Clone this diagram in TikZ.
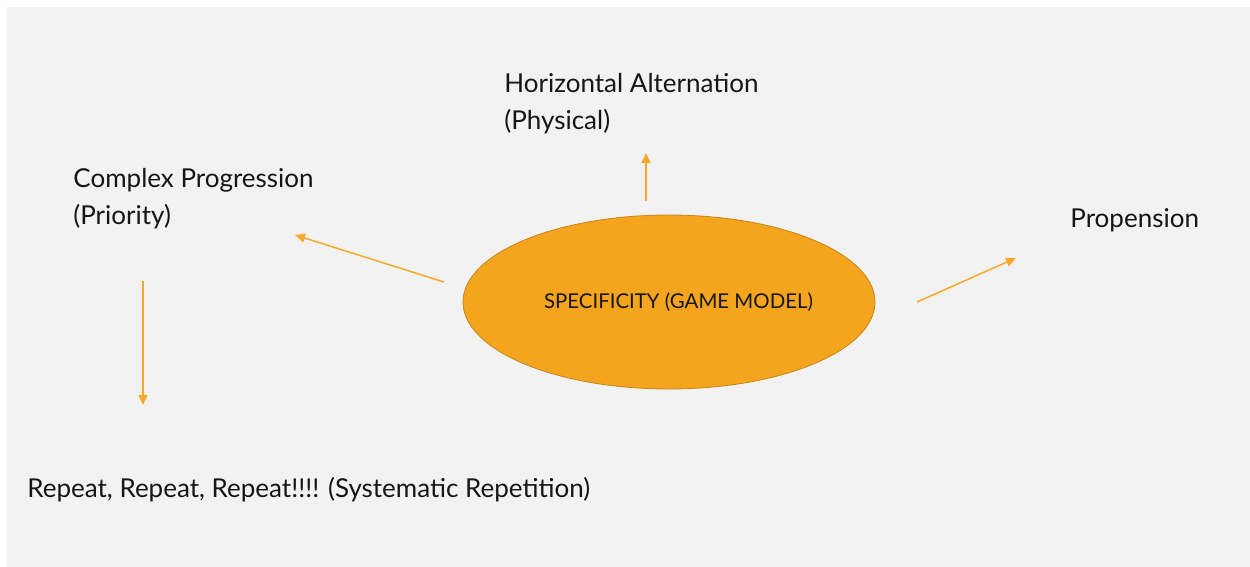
\documentclass[tikz,border=0pt]{standalone}
\usepackage{fontspec}
\setmainfont{Lato}
\usetikzlibrary{positioning, arrows.meta, shapes.geometric}
\definecolor{specorange}{RGB}{245, 164, 30}
\definecolor{specedge}{RGB}{196, 134, 28}
\definecolor{flowor}{RGB}{246, 168, 40}
\definecolor{panelgray}{RGB}{242, 242, 242}
\definecolor{labelink}{RGB}{22, 22, 22}
\tikzset{flow/.style={-{Triangle[length=5pt, width=4.5pt]}, line width=0.75pt, color=flowor}}

\begin{document}
\begin{tikzpicture}[x=0.5pt, y=-0.5pt, every node/.style={font=\fontsize{13}{18.5}\selectfont, text=labelink, inner sep=0pt}]
    \useasboundingbox (0,0) rectangle (1250,567);
    \fill[panelgray] (7,7) rectangle (1250,567);

    \node[ellipse, draw=specedge, fill=specorange, line width=0.4pt, minimum width=206pt, minimum height=87pt,
      font=\fontsize{10.2}{12}\selectfont] (spec) at (669,302) {\hspace*{9.5pt}SPECIFICITY (GAME MODEL)};

    % two-line labels: base anchor sits on the last line
    \node[anchor=base west, align=left] (horiz) at (504,130) {Horizontal Alternation\\(Physical)};
    \node[anchor=base west, align=left] (cplx) at (73,225) {Complex Progression\\(Priority)};
    \node[anchor=base west] (prop) at (1070,228) {Propension};
    \node[anchor=base west] (rep) at (27,497) {Repeat, Repeat, Repeat!!!! (Systematic Repetition)};

    % arrow ends
    \coordinate (upfrom) at (646,201);
    \coordinate (upto) at (646,153);
    \coordinate (leftfrom) at (444,282);
    \coordinate (leftto) at (295,235);
    \coordinate (downfrom) at (143,281);
    \coordinate (downto) at (143,405);
    \coordinate (rightfrom) at (917,302);
    \coordinate (rightto) at (1016,258);

    \draw[flow] (upfrom) -- (upto);
    \draw[flow] (leftfrom) -- (leftto);
    \draw[flow] (downfrom) -- (downto);
    \draw[flow] (rightfrom) -- (rightto);
\end{tikzpicture}
\end{document}
